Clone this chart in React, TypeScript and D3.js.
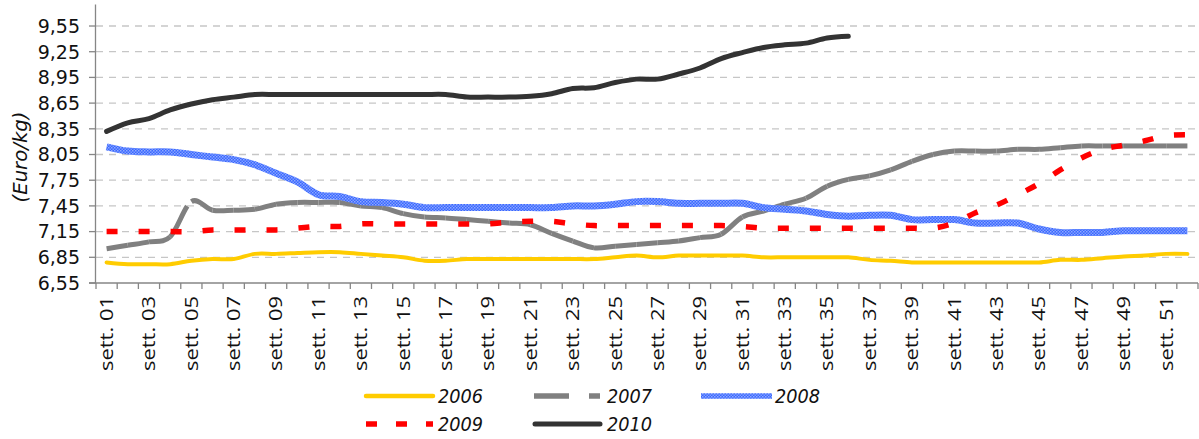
import React from "react";
import * as d3 from "d3";

const weeks: string[] = Array.from({ length: 52 }, (_, i) => String(i + 1).padStart(2, "0"));
const tickLabelWeeks: string[] = weeks.filter((_, i) => i % 2 === 0);
const yTicks: number[] = [6.55, 6.85, 7.15, 7.45, 7.75, 8.05, 8.35, 8.65, 8.95, 9.25, 9.55];

const s2006: number[] = [6.79,6.77,6.77,6.77,6.81,6.83,6.83,6.89,6.89,6.90,6.91,6.91,6.89,6.87,6.85,6.81,6.81,6.83,6.83,6.83,6.83,6.83,6.83,6.83,6.85,6.87,6.85,6.87,6.87,6.87,6.87,6.85,6.85,6.85,6.85,6.85,6.82,6.81,6.79,6.79,6.79,6.79,6.79,6.79,6.79,6.82,6.82,6.84,6.86,6.87,6.89,6.89];
const s2007: number[] = [6.95,6.99,7.03,7.09,7.50,7.40,7.40,7.41,7.47,7.49,7.49,7.49,7.45,7.43,7.36,7.32,7.31,7.29,7.27,7.25,7.23,7.13,7.04,6.96,6.98,7.00,7.02,7.04,7.08,7.12,7.32,7.39,7.47,7.54,7.68,7.76,7.80,7.87,7.97,8.05,8.09,8.09,8.09,8.11,8.11,8.13,8.15,8.15,8.15,8.15,8.15,8.15];
const s2008: number[] = [8.14,8.09,8.08,8.08,8.05,8.02,7.99,7.93,7.83,7.73,7.58,7.56,7.50,7.49,7.47,7.43,7.43,7.43,7.43,7.43,7.43,7.43,7.45,7.45,7.47,7.50,7.50,7.48,7.48,7.48,7.48,7.43,7.41,7.39,7.35,7.33,7.34,7.34,7.29,7.29,7.29,7.25,7.25,7.25,7.18,7.14,7.14,7.14,7.16,7.16,7.16,7.16];
const s2009: number[] = [7.15,7.15,7.15,7.15,7.15,7.17,7.17,7.17,7.17,7.19,7.21,7.21,7.24,7.24,7.24,7.24,7.24,7.24,7.24,7.26,7.27,7.27,7.24,7.22,7.22,7.22,7.22,7.22,7.22,7.22,7.21,7.19,7.19,7.19,7.19,7.19,7.19,7.19,7.19,7.19,7.25,7.37,7.46,7.58,7.71,7.87,8.01,8.11,8.16,8.21,8.27,8.28];
const s2010: number[] = [8.32,8.42,8.47,8.57,8.64,8.69,8.72,8.75,8.75,8.75,8.75,8.75,8.75,8.75,8.75,8.75,8.75,8.72,8.72,8.72,8.73,8.76,8.82,8.83,8.89,8.93,8.93,8.99,9.06,9.17,9.24,9.30,9.33,9.35,9.41,9.43];

const W = 1199;
const H = 439;
const plotLeft = 96;
const plotRight = 1198;
const plotTop = 4.6;
const plotBottom = 283;

export default function App() {
  const x = d3.scaleBand<string>().domain(weeks).range([plotLeft, plotRight]).padding(0);
  const bw = x.bandwidth();
  const cx = (i: number) => (x(weeks[i]) as number) + bw / 2;
  const y = d3.scaleLinear().domain([6.55, 9.8]).range([plotBottom, plotTop]);

  const line = d3
    .line<number>()
    .x((_, i) => cx(i))
    .y((v) => y(v))
    .curve(d3.curveCardinal.tension(0));

  // per-segment smoothed pieces for the 2007 series (dash pattern restarts per segment)
  const pts2007 = s2007.map((v, i) => [cx(i), y(v)] as [number, number]);
  const seg2007: string[] = [];
  for (let i = 0; i < pts2007.length - 1; i++) {
    const p0 = pts2007[Math.max(0, i - 1)];
    const p1 = pts2007[i];
    const p2 = pts2007[i + 1];
    const p3 = pts2007[Math.min(pts2007.length - 1, i + 2)];
    const c1 = [p1[0] + (p2[0] - p0[0]) / 6, p1[1] + (p2[1] - p0[1]) / 6];
    const c2 = [p2[0] - (p3[0] - p1[0]) / 6, p2[1] - (p3[1] - p1[1]) / 6];
    seg2007.push(`M${p1[0]},${p1[1]}C${c1[0]},${c1[1]} ${c2[0]},${c2[1]} ${p2[0]},${p2[1]}`);
  }

  const tickBoundaries = weeks.map((w) => x(w) as number).concat([plotRight]);
  const legendFont = "'DejaVu Sans', Verdana, sans-serif";

  return (
    <svg
      width={W}
      height={H}
      style={{ position: "absolute", left: 0, top: 0, background: "#fff" }}
      xmlns="http://www.w3.org/2000/svg"
    >
      <defs>
        <pattern id="chk" width="3" height="3" patternUnits="userSpaceOnUse">
          <rect width="3" height="3" fill="#3A67FF" />
          <rect width="1.5" height="1.5" fill="#8EA9FF" />
          <rect x="1.5" y="1.5" width="1.5" height="1.5" fill="#7C9CFF" />
        </pattern>
      </defs>

      {/* gridlines */}
      {yTicks.slice(1).map((t) => (
        <line
          key={"g" + t}
          x1={plotLeft}
          x2={plotRight}
          y1={y(t)}
          y2={y(t)}
          stroke="#C6C6C6"
          strokeWidth={1.3}
          strokeDasharray="7,6"
        />
      ))}

      {/* axes */}
      <line x1={plotLeft - 0.5} x2={plotLeft - 0.5} y1={plotTop} y2={plotBottom} stroke="#868686" strokeWidth={1.3} />
      <line x1={plotLeft - 7} x2={plotRight} y1={plotBottom} y2={plotBottom} stroke="#868686" strokeWidth={1.3} />
      {yTicks.map((t) => (
        <g key={"yt" + t}>
          <line x1={plotLeft - 7} x2={plotLeft} y1={y(t)} y2={y(t)} stroke="#868686" strokeWidth={1.3} />
          <text
            x={80}
            y={y(t)}
            dy="0.36em"
            textAnchor="end"
            fontFamily={legendFont}
            fontSize={19}
            fill="#111"
          >
            {t.toFixed(2).replace(".", ",")}
          </text>
        </g>
      ))}
      {tickBoundaries.map((b, i) => (
        <line key={"xt" + i} x1={b} x2={b} y1={plotBottom} y2={plotBottom + 6} stroke="#868686" strokeWidth={1.3} />
      ))}
      {tickLabelWeeks.map((w) => {
        const px = (x(w) as number) + bw / 2;
        return (
          <text
            key={"xl" + w}
            transform={`translate(${px},${296}) rotate(-90)`}
            textAnchor="end"
            dy="0.36em"
            fontFamily="'Open Sans', sans-serif"
            fontSize={17.5}
            textLength={75}
            lengthAdjust="spacingAndGlyphs"
            fill="#111"
          >
            {"sett. " + w}
          </text>
        );
      })}

      <text
        transform={`translate(${27},${157}) rotate(-90)`}
        textAnchor="middle"
        fontFamily={legendFont}
        fontStyle="italic"
        fontSize={19}
        textLength={91}
        lengthAdjust="spacingAndGlyphs"
        fill="#111"
      >
        (Euro/kg)
      </text>

      {/* series */}
      <path d={line(s2006) || ""} fill="none" stroke="#FFCC00" strokeWidth={4} strokeLinejoin="round" strokeLinecap="round" />
      {seg2007.map((d, i) => (
        <path key={"s7" + i} d={d} fill="none" stroke="#808080" strokeWidth={5} strokeDasharray="35,20,11,20" />
      ))}
      <path d={line(s2008) || ""} fill="none" stroke="url(#chk)" strokeWidth={7} strokeLinejoin="round" />
      <path d={line(s2009) || ""} fill="none" stroke="#FF0000" strokeWidth={5.5} strokeDasharray="11,21" />
      <path d={line(s2010) || ""} fill="none" stroke="#333333" strokeWidth={5} strokeLinejoin="round" strokeLinecap="round" />

      {/* legend */}
      <g>
        <line x1={366} x2={433} y1={396} y2={396} stroke="#FFCC00" strokeWidth={4.5} strokeLinecap="round" />
        <text x={438} y={396} dy="0.36em" fontFamily={legendFont} fontStyle="italic" fontSize={19} textLength={45} lengthAdjust="spacingAndGlyphs" fill="#111">2006</text>

        <line x1={534} x2={600} y1={396} y2={396} stroke="#808080" strokeWidth={5.3} strokeDasharray="35,20" />
        <text x={607} y={396} dy="0.36em" fontFamily={legendFont} fontStyle="italic" fontSize={19} textLength={45} lengthAdjust="spacingAndGlyphs" fill="#111">2007</text>

        <line x1={701} x2={772} y1={396} y2={396} stroke="url(#chk)" strokeWidth={5.5} />
        <text x={775} y={396} dy="0.36em" fontFamily={legendFont} fontStyle="italic" fontSize={19} textLength={45} lengthAdjust="spacingAndGlyphs" fill="#111">2008</text>

        <line x1={366} x2={433} y1={424} y2={424} stroke="#FF0000" strokeWidth={5.5} strokeDasharray="11,19" />
        <text x={438} y={424} dy="0.36em" fontFamily={legendFont} fontStyle="italic" fontSize={19} textLength={45} lengthAdjust="spacingAndGlyphs" fill="#111">2009</text>

        <line x1={535} x2={600} y1={424} y2={424} stroke="#333333" strokeWidth={5} strokeLinecap="round" />
        <text x={607} y={424} dy="0.36em" fontFamily={legendFont} fontStyle="italic" fontSize={19} textLength={45} lengthAdjust="spacingAndGlyphs" fill="#111">2010</text>
      </g>
    </svg>
  );
}
